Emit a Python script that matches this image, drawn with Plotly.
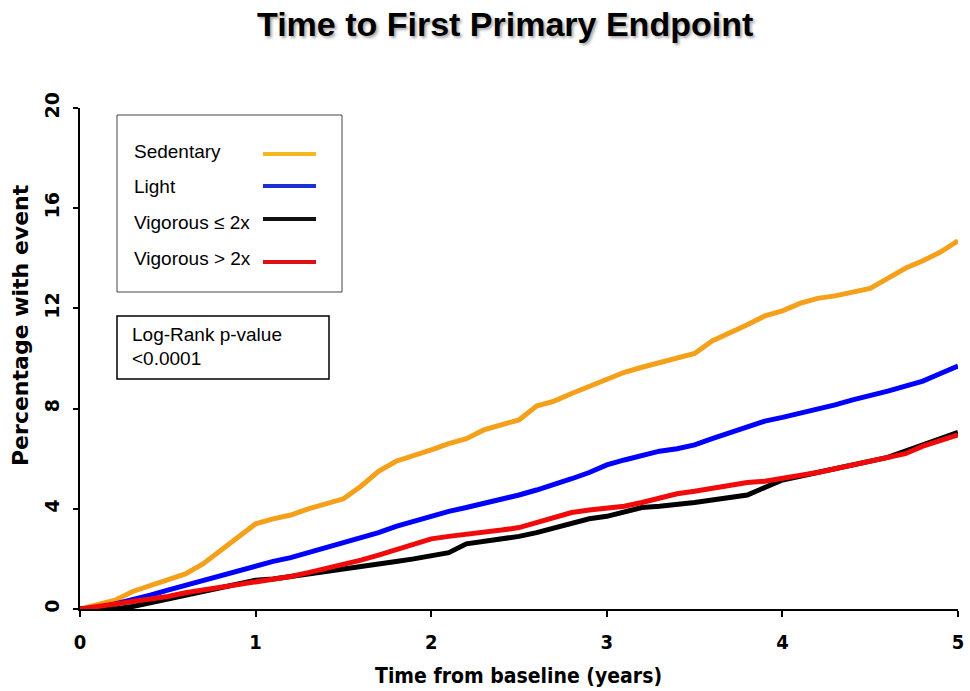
import plotly.graph_objects as go

# ---------------- data ----------------
years = [round(i * 0.1, 1) for i in range(51)]

sedentary = [0.0, 0.15, 0.35, 0.7, 0.95, 1.2, 1.4, 1.8, 2.35, 2.9,
             3.4, 3.6, 3.75, 4.0, 4.2, 4.4, 4.9, 5.5, 5.9, 6.1,
             6.35, 6.6, 6.8, 7.15, 7.35, 7.55, 8.1, 8.3, 8.6, 8.9,
             9.2, 9.45, 9.65, 9.85, 10.0, 10.2, 10.7, 11.0, 11.35, 11.7,
             11.9, 12.2, 12.4, 12.5, 12.65, 12.8, 13.2, 13.6, 13.9, 14.25,
             14.7]

light = [0.0, 0.05, 0.2, 0.35, 0.55, 0.75, 0.95, 1.15, 1.35, 1.55,
         1.75, 1.9, 2.05, 2.25, 2.4, 2.6, 2.85, 3.05, 3.3, 3.5,
         3.75, 3.9, 4.05, 4.2, 4.35, 4.55, 4.75, 4.95, 5.2, 5.45,
         5.75, 5.95, 6.15, 6.3, 6.4, 6.55, 6.8, 7.05, 7.3, 7.5,
         7.65, 7.8, 7.95, 8.15, 8.35, 8.5, 8.7, 8.9, 9.1, 9.4,
         9.7]

vig_le2 = [0.0, 0.0, 0.0, 0.1, 0.25, 0.4, 0.55, 0.7, 0.85, 1.0,
           1.15, 1.2, 1.3, 1.4, 1.5, 1.6, 1.65, 1.75, 1.9, 2.0,
           2.1, 2.25, 2.6, 2.7, 2.75, 2.9, 3.05, 3.25, 3.45, 3.6,
           3.7, 3.9, 4.05, 4.1, 4.15, 4.25, 4.35, 4.45, 4.55, 4.85,
           5.15, 5.3, 5.45, 5.6, 5.7, 5.85, 6.05, 6.3, 6.55, 6.8,
           7.05]

vig_gt2 = [0.0, 0.1, 0.2, 0.3, 0.4, 0.5, 0.65, 0.75, 0.85, 1.0,
           1.1, 1.2, 1.3, 1.45, 1.6, 1.75, 1.95, 2.15, 2.35, 2.6,
           2.8, 2.9, 3.0, 3.1, 3.15, 3.25, 3.45, 3.7, 3.85, 3.95,
           4.0, 4.1, 4.25, 4.45, 4.6, 4.7, 4.8, 4.95, 5.05, 5.1,
           5.2, 5.3, 5.45, 5.6, 5.75, 5.85, 6.0, 6.2, 6.5, 6.75,
           6.95]

series_names = ["Sedentary", "Light", "Vigorous \u2264 2x", "Vigorous > 2x"]
series_values = [sedentary, light, vig_le2, vig_gt2]
curve_colors = ["#F5A01A", "#0000FF", "#000000", "#F00A0A"]
legend_colors = ["#F2B81E", "#1E2FD2", "#111111", "#DD1111"]

x_ticks = [0, 1, 2, 3, 4, 5]
y_ticks = [0, 4, 8, 12, 16, 20]

title_text = "Time to First Primary Endpoint"
x_title = "Time from baseline (years)"
y_title = "Percentage with event"
pvalue_lines = ["Log-Rank p-value", "&lt;0.0001"]

# ---------------- layout geometry (pixels) ----------------
W, H = 970, 691
L, R, T, B = 80, 958, 108, 609


def px(xp):
    return (xp - L) / (R - L)


def py(yp):
    return (B - yp) / (B - T)


fig = go.Figure()
for name, vals, col in zip(series_names, series_values, curve_colors):
    fig.add_trace(go.Scatter(x=years, y=vals, mode="lines", name=name,
                             line=dict(color=col, width=5), showlegend=False))

fig.update_layout(
    width=W, height=H,
    margin=dict(l=L, r=W - R, t=T, b=H - B, pad=0, autoexpand=False),
    paper_bgcolor="white", plot_bgcolor="white",
    xaxis=dict(range=[0, 5], tickvals=x_ticks, showgrid=False, zeroline=False,
               automargin=False,
               showline=True, linecolor="black", linewidth=2,
               ticks="outside", ticklen=6, tickwidth=2, tickcolor="black",
               tickfont=dict(family="DejaVu Sans Condensed", size=20, color="black", weight="bold"),
               ticklabelstandoff=8),
    yaxis=dict(range=[0, 20], tickvals=y_ticks, showgrid=False, zeroline=False,
               automargin=False,
               showline=True, linecolor="black", linewidth=2,
               ticks="outside", ticklen=5, tickwidth=2, tickcolor="black",
               tickfont=dict(family="DejaVu Sans", size=19, color="black", weight="bold"),
               tickangle=-90, ticklabelstandoff=6),
)

shapes = []
annotations = []

# title with soft shadow
annotations.append(dict(text=title_text, x=px(505), y=py(24),
                        xref="paper", yref="paper", showarrow=False,
                        xanchor="center", yanchor="middle",
                        font=dict(family="Liberation Sans", size=34, color="black", weight="bold",
                                  shadow="2px 2px 3px rgba(0,0,0,0.35)")))

# axis titles
annotations.append(dict(text=x_title, x=px(518), y=py(676),
                        xref="paper", yref="paper", showarrow=False,
                        xanchor="center", yanchor="middle",
                        font=dict(family="DejaVu Sans Condensed", size=21, color="black", weight="bold")))
annotations.append(dict(text=y_title, x=px(20), y=py(325),
                        xref="paper", yref="paper", showarrow=False, textangle=-90,
                        xanchor="center", yanchor="middle",
                        font=dict(family="DejaVu Sans", size=22, color="black", weight="bold")))

# legend box
shapes.append(dict(type="rect", xref="paper", yref="paper",
                   x0=px(117), x1=px(342), y0=py(292), y1=py(115),
                   line=dict(color="#444444", width=1), fillcolor="white"))
leg_text_y = [151, 186, 222, 258]
leg_line_y = [154, 186, 219, 262]
for name, col, ty, ly in zip(series_names, legend_colors, leg_text_y, leg_line_y):
    annotations.append(dict(text=name, x=px(132), y=py(ty), xref="paper", yref="paper",
                            showarrow=False, xanchor="left", yanchor="middle",
                            font=dict(family="Liberation Sans", size=19, color="black")))
    shapes.append(dict(type="line", xref="paper", yref="paper",
                       x0=px(263), x1=px(316), y0=py(ly), y1=py(ly),
                       line=dict(color=col, width=4)))

# p-value box
shapes.append(dict(type="rect", xref="paper", yref="paper",
                   x0=px(117), x1=px(329), y0=py(379), y1=py(316),
                   line=dict(color="black", width=1.5), fillcolor="white"))
for txt, ty in zip(pvalue_lines, [334, 358]):
    annotations.append(dict(text=txt, x=px(130), y=py(ty), xref="paper", yref="paper",
                            showarrow=False, xanchor="left", yanchor="middle",
                            font=dict(family="Liberation Sans", size=19, color="black")))

fig.update_layout(shapes=shapes, annotations=annotations)
fig.write_html("out.html")
